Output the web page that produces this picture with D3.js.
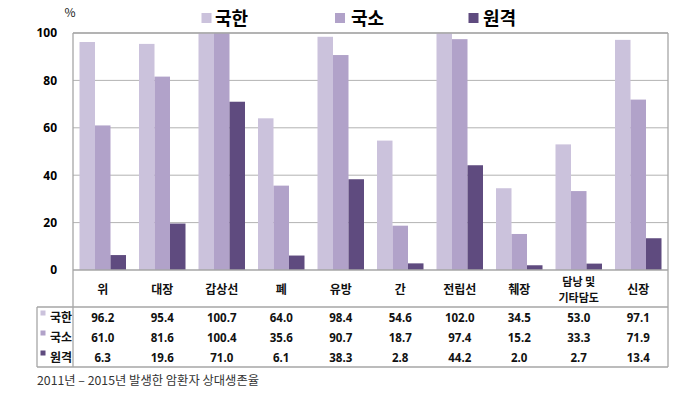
<!DOCTYPE html>
<html><head><meta charset="utf-8">
<script src="https://cdn.jsdelivr.net/npm/d3@7"></script>
<style>
body{margin:0;background:#fff;}
svg{display:block;font-family:"Noto Sans CJK KR","Noto Sans",sans-serif;}
</style></head>
<body><svg id="c" width="680" height="395"></svg>
<script>
const categories = ["위","대장","갑상선","폐","유방","간","전립선","췌장","담낭 및\n기타담도","신장"];
const seriesNames = ["국한","국소","원격"];
const localized = [96.2,95.4,100.7,64.0,98.4,54.6,102.0,34.5,53.0,97.1];
const regional  = [61.0,81.6,100.4,35.6,90.7,18.7,97.4,15.2,33.3,71.9];
const distant   = [6.3,19.6,71.0,6.1,38.3,2.8,44.2,2.0,2.7,13.4];
const yTicks = [0,20,40,60,80,100];
const colors = ["#cbc2dc","#b1a2c9","#5f4b7f"];
const footnote = "2011년 – 2015년 발생한 암환자 상대생존율";

const values = [localized, regional, distant];
const svg = d3.select("#c");
const L=73, R=668, T=33, B=270, tableL=37, rowSep=307, tableB=367;

const x0 = d3.scaleBand().domain(categories).range([L,R]).padding(0);
const x1 = d3.scaleBand().domain(seriesNames).range([6.5, x0.bandwidth()-6.5]).padding(0);
const y = d3.scaleLinear().domain([0,100]).range([B,T]).clamp(true);

// gridlines
svg.append("g").selectAll("line").data(yTicks.filter(t=>t>0)).join("line")
  .attr("x1",L).attr("x2",R).attr("y1",d=>y(d)).attr("y2",d=>y(d))
  .attr("stroke","#b3b3b3").attr("stroke-width",1);

// bars
const groups = svg.append("g").selectAll("g").data(categories).join("g")
  .attr("transform",c=>`translate(${x0(c)},0)`);
groups.selectAll("rect").data((c,i)=>seriesNames.map((s,j)=>({s,j,v:values[j][i]}))).join("rect")
  .attr("x",d=>x1(d.s)).attr("width",x1.bandwidth())
  .attr("y",d=>y(d.v)).attr("height",d=>B-y(d.v))
  .attr("fill",d=>colors[d.j]);

// y axis labels
const yAxis = d3.axisLeft(y).tickValues(yTicks).tickSize(0).tickPadding(16);
const ya = svg.append("g").attr("transform",`translate(${L},0)`).call(yAxis);
ya.select(".domain").remove();
ya.selectAll("text").attr("font-size",12).attr("font-weight","bold").attr("fill","#000")
  .attr("font-family","'Noto Sans','Noto Sans CJK KR',sans-serif");
svg.append("text").attr("x",70).attr("y",17).attr("text-anchor","middle")
  .attr("font-size",12).attr("fill","#222").text("%");

// frame & table lines
const lineC="#a6a6a6";
const ln=(x1_,y1_,x2_,y2_,w=1.3)=>svg.append("line").attr("x1",x1_).attr("y1",y1_).attr("x2",x2_).attr("y2",y2_).attr("stroke",lineC).attr("stroke-width",w);
ln(L,T,R,T);
ln(R,T,R,tableB);
ln(L,T,L,tableB);
ln(L,B,R,B);
ln(tableL,rowSep,R,rowSep,1.6);
ln(tableL,tableB,R,tableB);
ln(tableL,rowSep,tableL,tableB);

// category labels
const cl = svg.append("g").selectAll("text").data(categories).join("text")
  .attr("x",c=>x0(c)+x0.bandwidth()/2).attr("text-anchor","middle")
  .attr("font-weight","bold").attr("fill","#111");
cl.each(function(c){
  const parts=c.split("\n"); const t=d3.select(this);
  t.attr("font-size", parts.length===1 ? 12 : 11);
  parts.forEach((p,k)=>{
    t.append("tspan").attr("x",x0(c)+x0.bandwidth()/2)
     .attr("y", parts.length===1 ? 294 : 286+k*16).text(p);
  });
});

// table rows
const rowY=[317,337,357];
seriesNames.forEach((s,j)=>{
  svg.append("rect").attr("x",40.5).attr("y",rowY[j]-6.5).attr("width",5).attr("height",5).attr("fill",colors[j]);
  svg.append("text").attr("x",50).attr("y",rowY[j]+4.5).attr("font-size",12).attr("font-weight","bold").attr("fill","#111").text(s);
  svg.append("g").selectAll("text").data(categories).join("text")
    .attr("x",c=>x0(c)+x0.bandwidth()/2).attr("y",rowY[j]+4.5).attr("text-anchor","middle")
    .attr("font-size",11.5).attr("font-weight","bold").attr("fill","#111")
    .attr("font-family","'Noto Sans','Noto Sans CJK KR',sans-serif")
    .text((c,i)=>values[j][i].toFixed(1));
});

// legend
const legX=[201.5,335,468.5], legTX=[215,351,483];
seriesNames.forEach((s,j)=>{
  svg.append("rect").attr("x",legX[j]).attr("y",13).attr("width",10).attr("height",10).attr("fill",colors[j]);
  svg.append("text").attr("x",legTX[j]).attr("y",25).attr("font-size",18).attr("font-weight","bold").attr("fill","#000").text(s);
});

// footnote
svg.append("text").attr("x",37).attr("y",385).attr("font-size",12.3).attr("fill","#333").text(footnote);
</script></body></html>
